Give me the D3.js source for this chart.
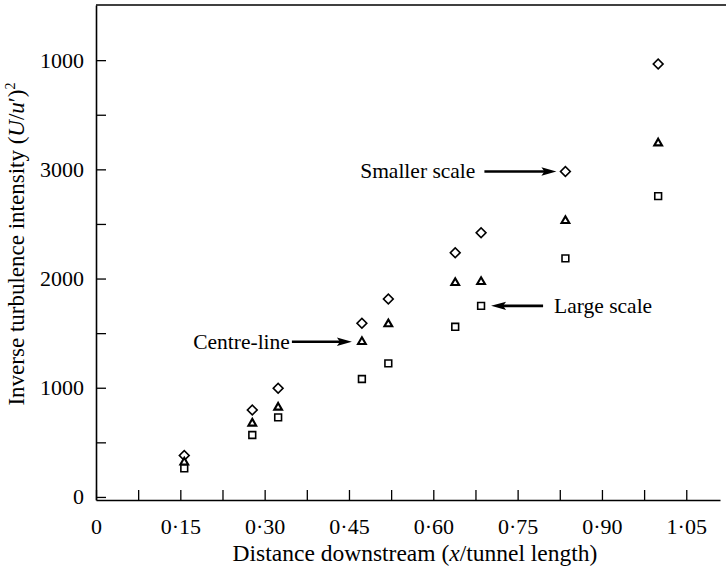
<!DOCTYPE html>
<html><head><meta charset="utf-8">
<script src="https://cdn.jsdelivr.net/npm/d3@7"></script>
<style>
html,body{margin:0;padding:0;background:#fff;}
text{font-family:"Liberation Serif","Times New Roman",serif;fill:#000;}
</style></head>
<body>
<svg id="chart" width="726" height="567"></svg>
<script>
// ---- data ----
const xPositions = [0.157, 0.278, 0.324, 0.473, 0.520, 0.639, 0.685, 0.835, 1.000];
const smallerScale = [379, 796, 995, 1590, 1812, 2236, 2419, 2980, 3965];
const centreLine   = [318, 674, 820, 1421, 1583, 1961, 1970, 2529, 3240];
const largeScale   = [262, 567, 729, 1080, 1223, 1558, 1750, 2185, 2755];
const xTickValues = [0, 0.075, 0.15, 0.225, 0.30, 0.375, 0.45, 0.525, 0.60, 0.675, 0.75, 0.825, 0.90, 0.975, 1.05];
const xTickLabels = ["0", "0·15", "0·30", "0·45", "0·60", "0·75", "0·90", "1·05"];
const yTickValues = [0, 500, 1000, 1500, 2000, 2500, 3000, 3500, 4000];
const yTickLabels = ["0", "1000", "2000", "3000", "1000"];
const annotationTexts = ["Smaller scale", "Centre-line", "Large scale"];

// ---- layout ----
const W = 726, H = 567;
const svg = d3.select("#chart");
svg.append("rect").attr("width", W).attr("height", H).attr("fill", "#fff");

const x = d3.scaleLinear().domain([0, 1.11]).range([96, 720]);
const y = d3.scaleLinear().domain([-28, 4505]).range([500, 5]);

const FS = 22;

// top frame line
svg.append("line").attr("x1", x.range()[0]).attr("x2", W).attr("y1", y.range()[1]).attr("y2", y.range()[1])
  .attr("stroke", "#000").attr("stroke-width", 1.6);

// x axis
const xAxis = d3.axisBottom(x).tickValues(xTickValues).tickSizeInner(-10).tickSizeOuter(0).tickPadding(18)
  .tickFormat((d, i) => i % 2 === 0 ? xTickLabels[i / 2] : "");
const gx = svg.append("g").attr("transform", `translate(0,${y.range()[0]})`).call(xAxis);
gx.select(".domain").attr("stroke-width", 1.6);
gx.selectAll(".tick line").attr("stroke-width", 1.3);
gx.selectAll(".tick text").attr("font-size", FS).attr("font-family", "Liberation Serif");

// y axis
const yAxis = d3.axisLeft(y).tickValues(yTickValues).tickSizeInner(-10).tickSizeOuter(0).tickPadding(12)
  .tickFormat((d, i) => i % 2 === 0 ? yTickLabels[i / 2] : "");
const gy = svg.append("g").attr("transform", `translate(${x.range()[0]},0)`).call(yAxis);
gy.select(".domain").attr("stroke-width", 1.6);
gy.selectAll(".tick line").attr("stroke-width", 1.3);
gy.selectAll(".tick text").attr("font-size", FS).attr("font-family", "Liberation Serif");

// axis titles
const xt = svg.append("text").attr("x", 415).attr("y", 561).attr("text-anchor", "middle").attr("font-size", 23.5);
xt.append("tspan").text("Distance downstream (");
xt.append("tspan").attr("font-style", "italic").text("x");
xt.append("tspan").text("/tunnel length)");

const yt = svg.append("text").attr("transform", "translate(24,244) rotate(-90)").attr("text-anchor", "middle").attr("font-size", 23);
yt.append("tspan").text("Inverse turbulence intensity (");
yt.append("tspan").attr("font-style", "italic").text("U");
yt.append("tspan").text("/");
yt.append("tspan").attr("font-style", "italic").text("u");
yt.append("tspan").text("′)");
yt.append("tspan").attr("font-size", 14).attr("dy", -9).text("2");

// markers
const series = [
  {values: smallerScale, sym: d3.symbolSquare, size: 48, rot: 45, sw: 1.6},
  {values: centreLine, sym: d3.symbolTriangle, size: 26, rot: 0, sw: 2.1},
  {values: largeScale, sym: d3.symbolSquare, size: 46, rot: 0, sw: 1.6}
];
series.forEach(s => {
  svg.append("g").selectAll("path").data(s.values).join("path")
    .attr("d", d3.symbol().type(s.sym).size(s.size))
    .attr("transform", (d, i) => `translate(${x(xPositions[i])},${y(d)}) rotate(${s.rot})`)
    .attr("fill", "#fff").attr("stroke", "#000").attr("stroke-width", s.sw);
});

// annotations with arrows
const annotations = [
  {text: annotationTexts[0], s: 0, i: 7, dir: 1, gap: 9, len: 72, textGap: 9},
  {text: annotationTexts[1], s: 1, i: 3, dir: 1, gap: 10, len: 60, textGap: 2},
  {text: annotationTexts[2], s: 2, i: 6, dir: -1, gap: 10, len: 52, textGap: 11}
];
annotations.forEach(a => {
  const px = x(xPositions[a.i]);
  const py = y(series[a.s].values[a.i]);
  const tipX = px - a.dir * a.gap;
  const tailX = tipX - a.dir * a.len;
  const headLen = 15, headW = 4.2;
  svg.append("line").attr("x1", tailX).attr("x2", tipX - a.dir * headLen * 0.6).attr("y1", py).attr("y2", py)
    .attr("stroke", "#000").attr("stroke-width", 2.6);
  svg.append("path")
    .attr("d", `M${tipX},${py} L${tipX - a.dir * headLen},${py - headW} L${tipX - a.dir * headLen * 0.8},${py} L${tipX - a.dir * headLen},${py + headW} Z`)
    .attr("fill", "#000");
  svg.append("text").attr("x", tailX - a.dir * a.textGap).attr("y", py).attr("dy", "0.32em")
    .attr("text-anchor", a.dir > 0 ? "end" : "start").attr("font-size", 21.5).text(a.text);
});
</script>
</body></html>
